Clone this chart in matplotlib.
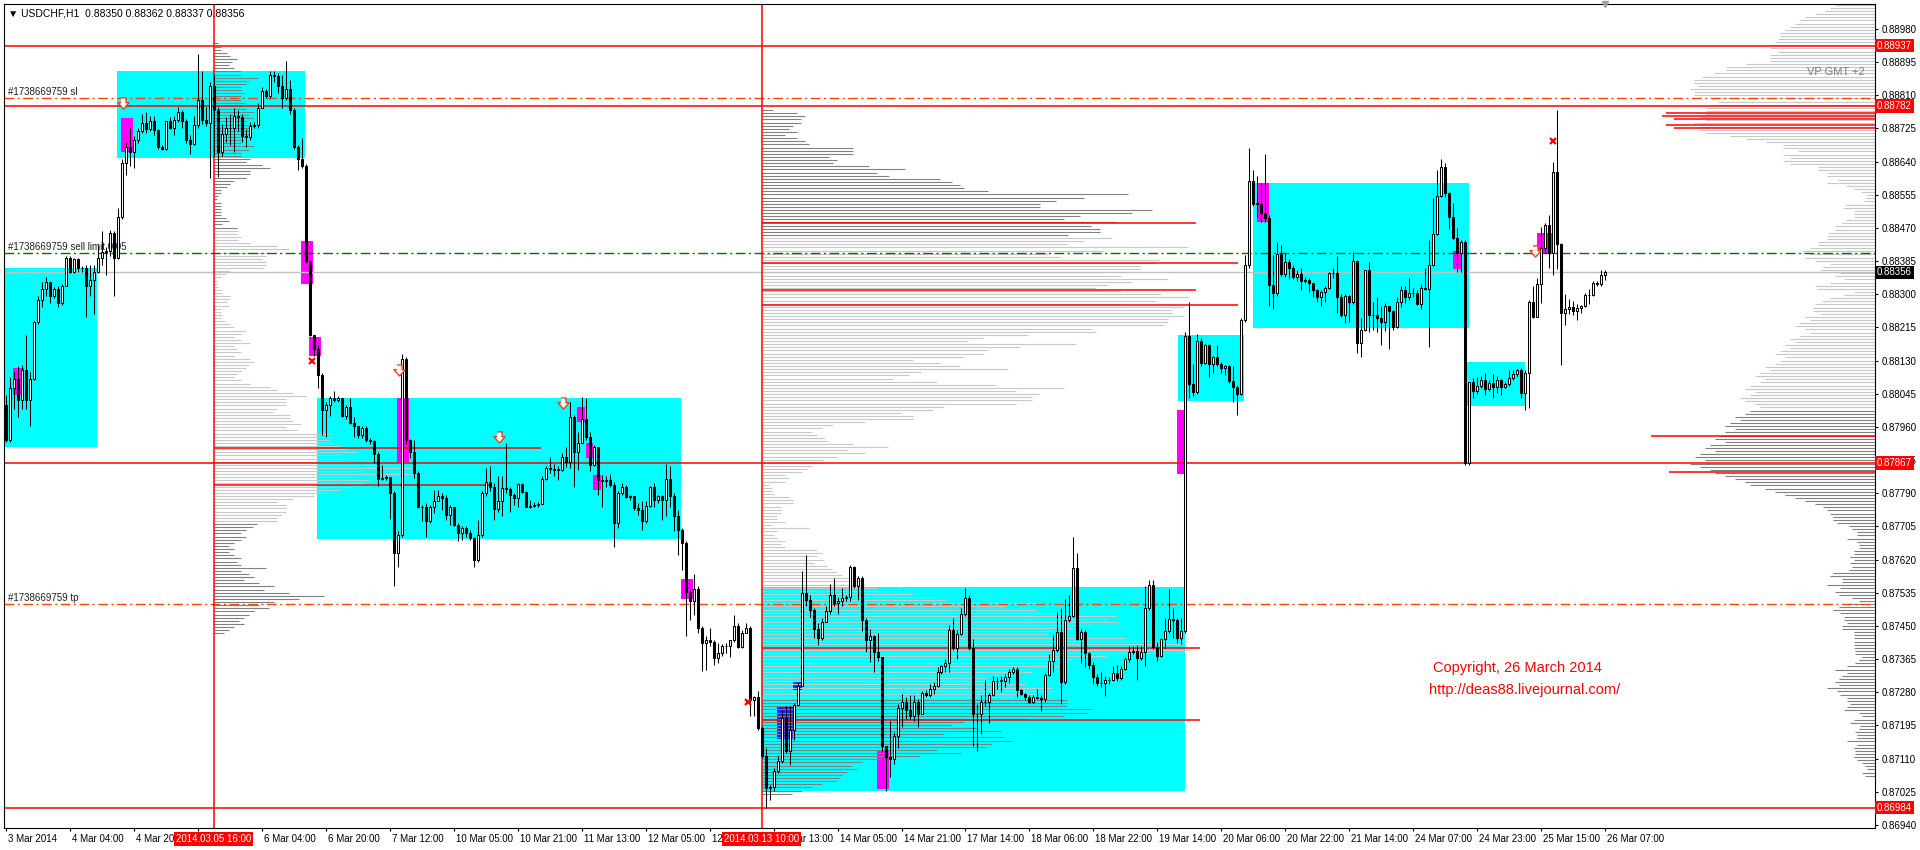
import numpy as np
import matplotlib.pyplot as plt
from matplotlib.transforms import blended_transform_factory, ScaledTranslation

plt.rcParams['font.family'] = ['Liberation Sans', 'DejaVu Sans']
plt.rcParams['font.size'] = 7

# USDCHF H1, 3 Mar 12:00 .. 26 Mar 07:00, prices in points (1e-5)
OPEN_FIRST = 88016
CLOSE = [
    87926, 88061, 88084, 88030, 88106, 88030, 88084, 88228, 88286, 88313,
    88331, 88295, 88313, 88277, 88322, 88394, 88358, 88390, 88367, 88367,
    88322, 88336, 88358, 88394, 88408, 88412, 88457, 88394, 88498, 88637,
    88678, 88664, 88696, 88718, 88738, 88723, 88743, 88720, 88678, 88673,
    88743, 88727, 88747, 88766, 88743, 88696, 88685, 88734, 88799, 88747,
    88739, 88835, 88772, 88664, 88711, 88727, 88725, 88758, 88754, 88705,
    88702, 88732, 88734, 88778, 88822, 88808, 88862, 88860, 88835, 88804,
    88826, 88772, 88678, 88646, 88628, 88385, 88196, 88160, 88093, 88003,
    88016, 88034, 88030, 88034, 87989, 88012, 87971, 87962, 87940, 87958,
    87926, 87924, 87890, 87827, 87829, 87832, 87791, 87638, 87683, 88133,
    87926, 87897, 87842, 87756, 87754, 87718, 87756, 87769, 87784, 87778,
    87735, 87756, 87709, 87688, 87701, 87688, 87675, 87620, 87684, 87790,
    87818, 87807, 87749, 87769, 87803, 87802, 87786, 87778, 87813, 87792,
    87756, 87758, 87761, 87763, 87826, 87854, 87852, 87850, 87850, 87883,
    87869, 87985, 87897, 87920, 87980, 87934, 87863, 87908, 87825, 87822,
    87823, 87812, 87714, 87790, 87807, 87780, 87782, 87752, 87746, 87718,
    87758, 87806, 87772, 87784, 87772, 87826, 87782, 87731, 87696, 87662,
    87538, 87513, 87544, 87445, 87406, 87415, 87410, 87368, 87380, 87399,
    87398, 87413, 87451, 87396, 87433, 87445, 87261, 87268, 87188, 87116,
    87035, 87037, 87077, 87103, 87214, 87129, 87184, 87248, 87297, 87534,
    87517, 87490, 87442, 87419, 87461, 87489, 87530, 87508, 87513, 87522,
    87523, 87601, 87552, 87574, 87464, 87413, 87424, 87382, 87371, 87141,
    87114, 87108, 87168, 87240, 87256, 87234, 87220, 87256, 87223, 87278,
    87272, 87289, 87297, 87333, 87347, 87355, 87439, 87393, 87428, 87481,
    87522, 87393, 87223, 87223, 87256, 87255, 87272, 87308, 87310, 87309,
    87318, 87333, 87340, 87286, 87275, 87267, 87256, 87267, 87266, 87262,
    87325, 87360, 87387, 87435, 87305, 87464, 87475, 87599, 87417, 87435,
    87380, 87351, 87318, 87303, 87304, 87311, 87312, 87329, 87316, 87340,
    87366, 87384, 87386, 87369, 87382, 87497, 87555, 87395, 87373, 87417,
    87437, 87467, 87464, 87420, 87437, 88192, 88070, 88050, 88181, 88124,
    88170, 88121, 88138, 88121, 88110, 88116, 88077, 88062, 88045, 88234,
    88375, 88590, 88532, 88532, 88509, 88495, 88324, 88304, 88403, 88352,
    88384, 88367, 88344, 88352, 88335, 88337, 88328, 88310, 88294, 88307,
    88315, 88354, 88354, 88294, 88247, 88296, 88279, 88386, 88175, 88209,
    88361, 88247, 88246, 88239, 88228, 88270, 88256, 88216, 88279, 88311,
    88294, 88303, 88303, 88275, 88315, 88313, 88375, 88455, 88552, 88627,
    88559, 88497, 88444, 88407, 88435, 87867, 88074, 88051, 88065, 88079,
    88057, 88072, 88062, 88079, 88062, 88070, 88085, 88096, 88106, 88048,
    88099, 88281, 88243, 88327, 88418, 88478, 88405, 88614, 88429, 88251,
    88262, 88267, 88256, 88264, 88269, 88298, 88298, 88328, 88326, 88350,
    88356]
HIGH = [
    88043, 88088, 88102, 88115, 88120, 88196, 88102, 88232, 88295, 88331,
    88344, 88331, 88318, 88322, 88327, 88399, 88399, 88394, 88392, 88372,
    88376, 88376, 88376, 88426, 88462, 88421, 88466, 88462, 88520, 88646,
    88691, 88727, 88705, 88727, 88763, 88768, 88758, 88758, 88723, 88682,
    88745, 88754, 88758, 88781, 88772, 88750, 88709, 88758, 88916, 88871,
    88781, 88844, 88862, 88781, 88736, 88754, 88763, 88777, 88772, 88763,
    88723, 88741, 88741, 88790, 88831, 88826, 88873, 88871, 88866, 88862,
    88898, 88849, 88777, 88682, 88700, 88633, 88385, 88196, 88169, 88097,
    88025, 88039, 88052, 88039, 88034, 88016, 88034, 87985, 87962, 87962,
    87962, 87931, 87926, 87895, 87863, 87836, 87832, 87796, 87692, 88147,
    88138, 87930, 87927, 87846, 87760, 87765, 87760, 87799, 87799, 87790,
    87786, 87760, 87756, 87714, 87705, 87705, 87696, 87679, 87722, 87795,
    87854, 87859, 87816, 87833, 87833, 87918, 87807, 87790, 87816, 87816,
    87795, 87773, 87767, 87768, 87833, 87860, 87884, 87866, 87859, 87893,
    87908, 88025, 87991, 87946, 88036, 88034, 87948, 87914, 87908, 87837,
    87833, 87840, 87820, 87795, 87816, 87812, 87786, 87784, 87765, 87769,
    87769, 87809, 87816, 87786, 87786, 87866, 87859, 87790, 87748, 87701,
    87667, 87543, 87584, 87551, 87449, 87423, 87445, 87415, 87406, 87404,
    87406, 87415, 87479, 87457, 87439, 87457, 87449, 87271, 87282, 87193,
    87137, 87043, 87086, 87116, 87235, 87244, 87244, 87252, 87305, 87590,
    87632, 87530, 87496, 87457, 87470, 87502, 87557, 87574, 87524, 87548,
    87530, 87606, 87603, 87579, 87579, 87470, 87442, 87426, 87431, 87371,
    87141, 87207, 87179, 87251, 87275, 87267, 87272, 87272, 87262, 87283,
    87286, 87300, 87305, 87344, 87351, 87366, 87453, 87470, 87439, 87497,
    87546, 87530, 87417, 87251, 87272, 87311, 87278, 87322, 87318, 87322,
    87327, 87340, 87344, 87344, 87289, 87278, 87272, 87272, 87289, 87272,
    87330, 87377, 87426, 87486, 87497, 87519, 87530, 87678, 87636, 87442,
    87439, 87384, 87358, 87327, 87333, 87322, 87318, 87347, 87351, 87347,
    87371, 87398, 87398, 87402, 87398, 87552, 87568, 87568, 87409, 87420,
    87470, 87544, 87497, 87470, 87470, 88203, 88280, 88121, 88198, 88187,
    88173, 88173, 88143, 88170, 88127, 88118, 88118, 88115, 88068, 88239,
    88401, 88674, 88619, 88602, 88584, 88660, 88503, 88401, 88435, 88427,
    88405, 88390, 88375, 88362, 88367, 88345, 88341, 88330, 88313, 88311,
    88320, 88358, 88367, 88398, 88301, 88301, 88298, 88409, 88388, 88239,
    88362, 88384, 88281, 88294, 88269, 88277, 88269, 88260, 88294, 88320,
    88320, 88341, 88315, 88310, 88327, 88367, 88439, 88546, 88619, 88646,
    88637, 88563, 88533, 88469, 88439, 88439, 88076, 88085, 88087, 88091,
    88098, 88081, 88096, 88091, 88082, 88076, 88105, 88106, 88108, 88111,
    88105, 88286, 88320, 88341, 88473, 88482, 88503, 88640, 88772, 88431,
    88301, 88287, 88284, 88275, 88273, 88303, 88313, 88333, 88333, 88361,
    88362]
LOW = [
    87922, 87922, 88007, 87985, 88007, 88007, 87962, 88079, 88223, 88268,
    88295, 88277, 88290, 88268, 88273, 88322, 88354, 88354, 88358, 88358,
    88241, 88295, 88250, 88354, 88376, 88349, 88399, 88295, 88390, 88493,
    88606, 88628, 88624, 88687, 88714, 88714, 88718, 88709, 88673, 88669,
    88671, 88723, 88709, 88741, 88727, 88687, 88660, 88682, 88727, 88736,
    88732, 88597, 88655, 88601, 88655, 88691, 88682, 88664, 88718, 88691,
    88678, 88696, 88727, 88727, 88777, 88804, 88804, 88844, 88817, 88777,
    88799, 88763, 88673, 88619, 88624, 88381, 88192, 88142, 88061, 87940,
    87935, 87989, 88025, 88025, 87985, 87980, 87967, 87935, 87931, 87931,
    87922, 87917, 87868, 87809, 87823, 87823, 87724, 87553, 87602, 87679,
    87917, 87880, 87829, 87752, 87718, 87679, 87714, 87739, 87773, 87748,
    87722, 87709, 87705, 87667, 87671, 87679, 87671, 87601, 87615, 87679,
    87782, 87795, 87722, 87743, 87731, 87790, 87743, 87761, 87756, 87790,
    87755, 87752, 87756, 87756, 87763, 87825, 87842, 87833, 87825, 87846,
    87857, 87854, 87807, 87850, 87919, 87927, 87846, 87859, 87786, 87756,
    87807, 87807, 87652, 87701, 87786, 87778, 87773, 87748, 87735, 87696,
    87714, 87756, 87756, 87765, 87722, 87731, 87756, 87692, 87632, 87594,
    87423, 87466, 87479, 87432, 87334, 87338, 87398, 87351, 87355, 87372,
    87380, 87370, 87410, 87393, 87393, 87432, 87218, 87218, 87184, 87111,
    86983, 87005, 87026, 87073, 87099, 87124, 87094, 87158, 87248, 87295,
    87500, 87474, 87419, 87402, 87415, 87459, 87481, 87502, 87481, 87502,
    87513, 87513, 87548, 87516, 87437, 87382, 87358, 87333, 87360, 87130,
    87026, 87064, 87095, 87136, 87190, 87212, 87212, 87205, 87190, 87223,
    87267, 87267, 87275, 87294, 87327, 87333, 87333, 87387, 87366, 87426,
    87475, 87387, 87141, 87130, 87174, 87245, 87201, 87270, 87289, 87281,
    87294, 87303, 87327, 87267, 87272, 87259, 87253, 87253, 87262, 87231,
    87256, 87322, 87333, 87384, 87251, 87300, 87461, 87472, 87415, 87355,
    87344, 87340, 87300, 87297, 87294, 87270, 87300, 87308, 87308, 87311,
    87338, 87358, 87377, 87311, 87362, 87347, 87491, 87391, 87360, 87371,
    87393, 87431, 87420, 87406, 87404, 87431, 88034, 88039, 88044, 88116,
    88121, 88088, 88099, 88116, 88099, 88094, 88072, 88025, 87991, 88042,
    88230, 88367, 88525, 88499, 88486, 88484, 88269, 88262, 88296, 88347,
    88345, 88339, 88339, 88333, 88310, 88330, 88307, 88294, 88281, 88269,
    88281, 88313, 88341, 88251, 88243, 88226, 88230, 88275, 88149, 88139,
    88207, 88204, 88209, 88204, 88170, 88207, 88159, 88209, 88213, 88267,
    88277, 88286, 88294, 88273, 88262, 88310, 88164, 88373, 88452, 88550,
    88550, 88467, 88441, 88356, 88358, 87863, 87863, 88034, 88045, 88059,
    88042, 88053, 88034, 88046, 88042, 88059, 88065, 88081, 88087, 88034,
    88004, 88008, 88239, 88241, 88277, 88405, 88367, 88350, 88364, 88119,
    88222, 88250, 88247, 88233, 88251, 88267, 88275, 88296, 88320, 88321,
    88337]

# time labels every 16 bars ('' where the red time tag fully covers it)
X_LABELS = ['3 Mar 2014', '4 Mar 04:00', '4 Mar 20:00', '', '6 Mar 04:00',
            '6 Mar 20:00', '7 Mar 12:00', '10 Mar 05:00', '10 Mar 21:00', '11 Mar 13:00',
            '12 Mar 05:00', '12 Mar 21:00', '13 Mar 13:00', '14 Mar 05:00', '14 Mar 21:00',
            '17 Mar 14:00', '18 Mar 06:00', '18 Mar 22:00', '19 Mar 14:00', '20 Mar 06:00',
            '20 Mar 22:00', '21 Mar 14:00', '24 Mar 07:00', '24 Mar 23:00', '25 Mar 15:00',
            '26 Mar 07:00']
X_LABEL_EVERY = 16
Y_TICKS = [0.86940, 0.87025, 0.87110, 0.87195, 0.87280, 0.87365, 0.87450, 0.87535,
           0.87620, 0.87705, 0.87790, 0.87875, 0.87960, 0.88045, 0.88130, 0.88215,
           0.88300, 0.88385, 0.88470, 0.88555, 0.88640, 0.88725, 0.88810, 0.88895, 0.88980]

# vertical lines (bar index, label)
VLINES = [(52, '2014.03.05 16:00'), (189, '2014.03.13 10:00')]
# horizontal levels
RED_LEVELS = [0.88937, 0.88782, 0.87867, 0.86984]
BID = 0.88356
SL, SELL_LIMIT, TP = 0.88802, 0.88405, 0.87505

# rectangles: (bar from, bar to, price low, price high)
CYAN_BOXES = [(-0.1, 22.9, 0.87909, 0.88367), (27.9, 74.9, 0.88649, 0.88872),
              (77.9, 168.9, 0.87673, 0.88034), (189.1, 294.9, 0.87027, 0.87550),
              (293.1, 309.6, 0.88027, 0.88196), (311.9, 365.9, 0.88214, 0.88585),
              (365.4, 379.9, 0.88014, 0.88127)]
MAGENTA_BOXES = [(1.9, 4.6, 0.88042, 0.88111), (28.9, 31.9, 0.88665, 0.88752),
                 (73.9, 76.9, 0.88327, 0.88437), (75.9, 78.9, 0.88142, 0.88191),
                 (97.9, 100.9, 0.87870, 0.88034), (142.9, 144.9, 0.87973, 0.88011),
                 (145.1, 146.9, 0.87881, 0.87919), (146.9, 148.9, 0.87799, 0.87837),
                 (168.9, 171.9, 0.87519, 0.87571), (217.9, 220.9, 0.87032, 0.87130),
                 (292.9, 294.6, 0.87840, 0.88004), (312.9, 315.9, 0.88485, 0.88585),
                 (361.9, 364.1, 0.88365, 0.88411), (382.9, 386.6, 0.88406, 0.88457)]
BLUE_BOXES = [(192.9, 196.9, 0.87160, 0.87245), (196.9, 199.1, 0.87286, 0.87306)]

ARROWS_BAR = [29.4, 98.4, 123.4, 139.4, 382.4]
ARROWS_PRICE = [0.88790, 0.88106, 0.87934, 0.88022, 0.88411]
CROSS_BAR = [76.7, 185.6, 386.9]
CROSS_PRICE = [0.88129, 0.87255, 0.88693]

# volume profiles: rows of 8 points, lengths in screen px (4 px per bar)
ROW = 0.00008
VP1_TOP, VP1_VA = 0.88943, (0.87719, 0.88471)
VP1_LEN = [4, 7, 7, 13, 16, 23, 18, 15, 20, 27, 27, 44, 35, 32, 27, 27, 30, 27, 27, 32,
           28, 32, 40, 35, 39, 33, 40, 35, 36, 35, 32, 27, 27, 40, 35, 27, 27, 36, 32, 48,
           56, 36, 36, 32, 20, 16, 13, 7, 7, 4, 3, 7, 7, 7, 7, 7, 12, 15, 8,
           23, 24, 23, 27, 24, 36, 63, 75, 52, 52, 48, 52, 52, 49, 15, 12, 7, 3, 3, 4,
           7, 8, 16, 15, 13, 15, 7, 7, 8, 7, 11, 15, 20, 32, 27, 20, 27, 36, 20, 23,
           27, 20, 36, 40, 35, 32, 27, 23, 20, 27, 36, 56, 63, 79, 92, 72, 72, 72, 63, 59,
           76, 76, 79, 87, 72, 83,
           115, 120, 115, 120, 127, 132, 143, 127, 132, 137, 175, 197, 150, 197, 140,
           155, 150, 140, 127, 115, 100, 79, 63, 72, 72, 72, 67, 63, 63,
           43, 39, 32, 27, 32, 27, 20, 15, 20, 15, 20, 27, 23, 27, 52, 27, 35, 40, 30, 45,
           60, 50, 75, 110, 85, 60, 45, 55, 40, 35, 30, 25, 30, 20, 15, 10]
VP1_RED = [(0.87906, 327), (0.87811, 277)]

VP2_TOP, VP2_VA = 0.88772, (0.87260, 0.88444)
VP2_LEN = [11, 35, 43, 39, 39, 31, 27, 35, 23, 35, 43, 47, 91, 91, 91, 67, 75, 71, 107, 143,
           115, 127, 179, 191, 199, 203, 227, 367, 323, 295, 279, 279, 391, 371, 319, 303,
           355, 330, 339, 339, 307,
           351, 323, 307, 427, 343, 287, 299, 399, 395, 380, 379, 343, 360, 407, 371, 347,
           335, 359, 400, 427, 395, 359, 423, 410, 411, 423, 407, 407, 403, 331, 335, 267,
           223, 207, 315, 259, 227, 223, 203, 151, 179, 199, 247, 159, 147, 131, 175, 235,
           303, 255, 278, 271, 271, 255, 183, 171, 139, 151, 151, 103, 71, 60, 50, 55, 63,
           66, 91, 126, 86, 103, 75, 62, 59, 50, 45, 40,
           23, 27, 23, 7, 10, 10, 12, 27, 31, 31, 19, 19, 19, 15, 15, 23, 10, 47, 15, 12,
           15, 23, 19, 23, 55, 60, 55, 62, 52, 65, 70, 75, 80, 90, 100,
           103, 115, 138, 151, 175, 185, 278, 245, 275, 313, 355, 345, 358, 331, 311, 291,
           285, 365, 426, 421, 391, 426, 421, 345, 311, 291, 298, 265, 271, 255, 225, 245,
           265, 291, 301, 275, 251, 306,
           306, 306, 331, 326, 303, 266, 203, 191, 215, 240, 183, 243, 251, 231, 225, 175,
           200, 158, 120, 100, 90, 95, 85, 80, 78, 75, 60, 50, 40, 30]
VP2_RED = [(0.88483, 435), (0.88380, 477), (0.88311, 435), (0.88273, 477),
           (0.87394, 439), (0.87209, 439)]

VP3_TOP, VP3_VA = 0.89042, (0.88010, 0.8905)
VP3_LEN = [40, 45, 50, 60, 70, 75, 80, 85, 90, 95, 95, 97, 100, 105, 105,
           97, 105, 105, 105, 129, 149, 149, 161, 173, 181, 181, 177, 185, 181, 181, 157,
           157, 161, 169, 169, 170, 175, 170, 181, 175, 175, 169, 145, 129, 109, 92, 92, 77,
           92, 85, 92, 85, 57, 57, 48, 48, 37, 48, 29, 21, 14, 9, 9, 11, 29, 32, 21, 21, 21,
           29, 33, 40, 40, 47, 48, 48, 57, 57, 65, 73, 65,
           70, 60, 45, 52, 55, 35, 40, 31, 45, 60, 58, 21, 31, 45, 53, 60, 62,
           62, 55, 70, 65, 75, 80, 70, 65, 75, 85, 80, 90, 85, 95, 100, 90,
           95, 100, 110, 105, 115, 120, 110, 115, 125, 130, 120, 125, 135, 130, 120,
           115, 125, 130, 140, 135, 145, 150, 140, 150, 155,
           160, 150, 165, 170, 160, 175, 180, 170, 185, 175, 165, 160, 150, 140, 130, 125,
           110, 100, 90, 80, 70, 60,
           52, 48, 45, 42, 42, 38, 26, 23, 18, 18, 28, 18, 16, 16, 21, 21, 25, 21, 25, 23,
           26, 42, 45, 33, 33, 48, 35, 40, 36, 23, 16, 30, 36, 42, 35, 31, 31, 28, 33, 33,
           21, 21, 21, 21, 21, 21, 20, 20, 13, 16, 20, 28, 40, 28, 33, 36, 40, 36, 48, 38,
           35, 28, 28, 25, 28, 31, 16, 13, 21, 25, 15, 16, 20, 18, 18, 28, 18, 21, 20, 20,
           21, 18, 13, 10, 8, 13, 10]
VP3_RED = [(0.88765, 209), (0.88757, 213), (0.88749, 201), (0.88734, 209),
           (0.88726, 201), (0.87937, 224), (0.87845, 206)]

PX_PER_BAR = 4.0
XMIN, XMAX = -0.4, 467.4
YMIN, YMAX = 0.86932, 0.89044

close = np.array(CLOSE) / 1e5
opn = np.r_[OPEN_FIRST / 1e5, close[:-1]]
high = np.maximum(np.array(HIGH) / 1e5, np.maximum(opn, close))
low = np.minimum(np.array(LOW) / 1e5, np.minimum(opn, close))
x = np.arange(len(close))

fig = plt.figure(figsize=(19.2, 8.5), dpi=100)
ax = fig.add_axes([4 / 1920, 22 / 850, 1871 / 1920, 824 / 850])
ax.set_xlim(XMIN, XMAX)
ax.set_ylim(YMIN, YMAX)

# boxes
for x0, x1, p0, p1 in CYAN_BOXES:
    ax.fill_between([x0, x1], p0, p1, color='#00ffff', lw=0, zorder=1)
for x0, x1, p0, p1 in MAGENTA_BOXES:
    ax.fill_between([x0, x1], p0, p1, color='#ff00ff', lw=0, zorder=1.5)
for x0, x1, p0, p1 in BLUE_BOXES:
    ax.fill_between([x0, x1], p0, p1, color='#2020ff', lw=0, zorder=1.5)


def profile(top, lengths, va, anchor, side):
    ln = np.array(lengths) / PX_PER_BAR
    prices = top - ROW * np.arange(len(ln))
    inside = (prices >= va[0]) & (prices <= va[1])
    cols = np.where(inside, '#c8c8c8', '#808080')
    if side > 0:
        ax.hlines(prices, anchor, anchor + ln, colors=cols, lw=0.8, zorder=2)
    else:
        ax.hlines(prices, anchor - ln, anchor, colors=cols, lw=0.8, zorder=2)


def red_segments(levels, anchor, side):
    for p, ln in levels:
        ln = ln / PX_PER_BAR
        if side > 0:
            ax.hlines(p, anchor, anchor + ln, colors='red', lw=1.1, zorder=2.3)
        else:
            ax.hlines(p, anchor - ln, anchor, colors='red', lw=1.1, zorder=2.3)


profile(VP1_TOP, VP1_LEN, VP1_VA, VLINES[0][0], 1)
profile(VP2_TOP, VP2_LEN, VP2_VA, VLINES[1][0], 1)
profile(VP3_TOP, VP3_LEN, VP3_VA, XMAX, -1)
red_segments(VP1_RED, VLINES[0][0], 1)
red_segments(VP2_RED, VLINES[1][0], 1)
red_segments(VP3_RED, XMAX, -1)

# levels
ax.axhline(BID, color='#c0c0c0', lw=1, zorder=2.2)
for p in RED_LEVELS:
    ax.axhline(p, color='red', lw=1.1, zorder=2.2)
dd = (0, (7, 2.5, 1.5, 2.5))
ax.axhline(SL, color='#ff4500', lw=1, ls=dd, zorder=2.2)
ax.axhline(TP, color='#ff4500', lw=1, ls=dd, zorder=2.2)
ax.axhline(SELL_LIMIT, color='#007000', lw=1, ls=dd, zorder=2.2)
for b, _ in VLINES:
    ax.axvline(b, color='red', lw=1.1, zorder=2.2)

lx = blended_transform_factory(ax.transAxes, ax.transData)
for p, s in [(SL, '#1738669759 sl'), (SELL_LIMIT, '#1738669759 sell limit 0.05'),
             (TP, '#1738669759 tp')]:
    ax.text(4 / 1871, p + 0.00004, s, transform=lx, ha='left', va='bottom',
            fontsize=7, color='#202020', zorder=2.4)

# candles
ax.vlines(x, low, high, color='black', lw=0.75, zorder=3)
up = close >= opn
blo = np.minimum(opn, close)
bh = np.maximum(np.abs(close - opn), 0.000012)
ax.bar(x[up], bh[up], bottom=blo[up], width=0.5, color='white', edgecolor='black',
       lw=0.75, zorder=3.1)
ax.bar(x[~up], bh[~up], bottom=blo[~up], width=0.5, color='black', edgecolor='black',
       lw=0.75, zorder=3.1)

# signal markers
arrow = [(-0.45, 1), (0.45, 1), (0.45, 0.15), (1, 0.15), (0, -1), (-1, 0.15), (-0.45, 0.15)]
ax.plot(ARROWS_BAR, ARROWS_PRICE, ls='none', marker=arrow, ms=8, mfc='white',
        mec='#ff3000', mew=0.9, zorder=4)
ax.plot(CROSS_BAR, CROSS_PRICE, ls='none', marker='x', ms=5, mec='red', mew=1.6, zorder=4)

# axes styling
for s in ax.spines.values():
    s.set_color('black')
    s.set_linewidth(0.8)
ax.yaxis.tick_right()
ax.set_yticks(Y_TICKS)
ax.set_yticklabels([f'{v:.5f}' for v in Y_TICKS])
ax.tick_params(axis='y', direction='out', length=2.5, width=0.8, pad=2, labelsize=7)
ax.set_xticks(np.arange(len(X_LABELS)) * X_LABEL_EVERY)
ax.set_xticklabels(X_LABELS)
ax.tick_params(axis='x', direction='out', length=2.5, width=0.8, pad=1.5, labelsize=7)
off = ScaledTranslation(2 / 100, 0, fig.dpi_scale_trans)
for lbl in ax.get_xticklabels():
    lbl.set_horizontalalignment('left')
    lbl.set_transform(lbl.get_transform() + off)

# price tags on the right axis
for p in RED_LEVELS:
    ax.text(1.0 + 2 / 1871, p, f'{p:.5f}', transform=lx, ha='left', va='center',
            fontsize=7, color='white', clip_on=False, zorder=10,
            bbox=dict(boxstyle='square,pad=0.18', fc='red', ec='none'))
ax.text(1.0 + 2 / 1871, BID, f'{BID:.5f}', transform=lx, ha='left', va='center',
        fontsize=7, color='white', clip_on=False, zorder=10,
        bbox=dict(boxstyle='square,pad=0.18', fc='black', ec='none'))

# time tags for vertical lines
tx = blended_transform_factory(ax.transData, ax.transAxes)
for b, s in VLINES:
    ax.text(b, -11 / 824, s, transform=tx, ha='center', va='center', fontsize=7,
            color='white', clip_on=False, zorder=10,
            bbox=dict(boxstyle='square,pad=0.2', fc='red', ec='none'))

ax.plot([400], [1.0], transform=tx, marker='v', ms=5, color='#a0a0a0',
        clip_on=False, zorder=10)

ax.text(4 / 1871, 1 - 9 / 824, '\u25bc USDCHF,H1  0.88350 0.88362 0.88337 0.88356',
        transform=ax.transAxes, ha='left', va='center', fontsize=7.5, color='black',
        zorder=10)
ax.text(1 - 10 / 1871, 1 - 68 / 824, 'VP GMT +2', transform=ax.transAxes, ha='right',
        va='center', fontsize=8, color='#808080', zorder=10)

fig.text(1517 / 1920, 1 - 668 / 850, 'Copyright, 26 March 2014', ha='center', va='center',
         fontsize=10.5, color='red')
fig.text(1525 / 1920, 1 - 690 / 850, 'http://deas88.livejournal.com/', ha='center',
         va='center', fontsize=10.5, color='red')

fig.savefig('out.png', dpi=100, facecolor='white')
